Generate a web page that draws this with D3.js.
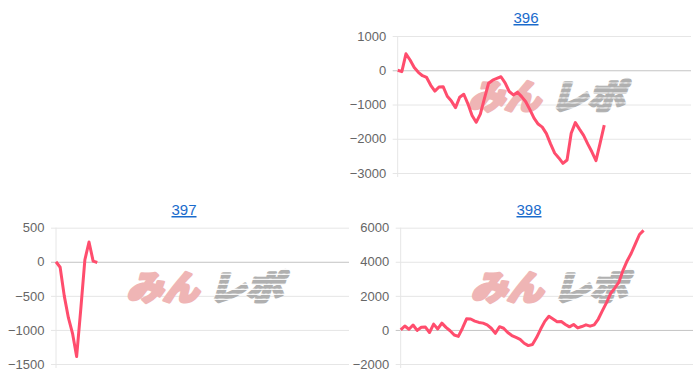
<!DOCTYPE html>
<html>
<head>
<meta charset="utf-8">
<script src="https://cdn.jsdelivr.net/npm/d3@7"></script>
<style>
  body { margin: 0; background: #fff; }
  svg { display: block; font-family: "Liberation Sans", Arial, sans-serif; }
</style>
</head>
<body>
<div id="chart"></div>
<script>
// values, one per game step
const titles = ['396', '397', '398'];

const series396 = [0, -40, 480, 300, 80, -60, -160, -210, -440, -610,
  -490, -480, -760, -900, -1090, -790, -700, -980, -1320, -1520,
  -1280, -820, -380, -290, -240, -190, -370, -620, -720, -640,
  -770, -920, -1150, -1400, -1570, -1660, -1850, -2150, -2420, -2560,
  -2720, -2620, -1840, -1530, -1720, -1900, -2150, -2380, -2640, -2130,
  -1600];

const series397 = [0, -80, -500, -820, -1050, -1390, -700, 30, 290, 10, -10];

const series398 = [0, 230, 40, 290, -30, 160, 170, -150, 340, 60,
  400, 150, -50, -300, -380, 100, 650, 640, 520, 440,
  400, 300, 100, -200, 190, 100, -150, -330, -440, -550,
  -780, -920, -860, -450, 50, 500, 800, 640, 480, 490,
  320, 180, 320, 120, 200, 300, 220, 300, 640, 1130,
  1600, 2150, 2450, 2800, 3500, 4050, 4500, 5050, 5600, 5840];

const ticks396 = [1000, 0, -1000, -2000, -3000];
const ticks397 = [500, 0, -500, -1000, -1500];
const ticks398 = [6000, 4000, 2000, 0, -2000];

const xSlots = 71; // width of the x axis in game steps

const svg = d3.select('#chart').append('svg')
  .attr('width', 700)
  .attr('height', 382);

// striped fill for the grey half of the logo
const defs = svg.append('defs');
defs.append('pattern')
  .attr('id', 'stripes')
  .attr('patternUnits', 'userSpaceOnUse')
  .attr('width', 8).attr('height', 5)
  .append('rect')
  .attr('width', 8).attr('height', 3.8)
  .attr('fill', '#b0b0b0');

const panels = [
  { title: titles[0], data: series396, ticks: ticks396, titleX: 526, titleY: 23,
    left: 397.7, right: 691, top: 36, bottom: 173 },
  { title: titles[1], data: series397, ticks: ticks397, titleX: 184, titleY: 215,
    left: 56, right: 349, top: 227.7, bottom: 364 },
  { title: titles[2], data: series398, ticks: ticks398, titleX: 529, titleY: 215,
    left: 400.7, right: 693, top: 227.7, bottom: 364 }
];

panels.forEach(drawPanel);

function drawPanel(p) {
  const g = svg.append('g');

  const x = d3.scaleLinear()
    .domain([0, xSlots])
    .range([p.left, p.right]);

  const y = d3.scaleLinear()
    .domain(d3.extent(p.ticks))
    .range([p.bottom, p.top]);

  // title (looks like a link)
  g.append('text')
    .attr('x', p.titleX)
    .attr('y', p.titleY)
    .attr('text-anchor', 'middle')
    .attr('fill', '#1a6bcc')
    .style('font-size', '15px')
    .style('text-decoration', 'underline')
    .text(p.title);

  // y axis: grid lines, tick marks and labels
  const yAxis = d3.axisLeft(y)
    .tickValues(p.ticks)
    .tickSize(-(p.right - p.left) - 5)
    .tickPadding(6)
    .tickFormat(d3.format('d'));

  const ax = g.append('g')
    .attr('transform', 'translate(' + (p.left - 5) + ',0)')
    .call(yAxis);
  ax.select('.domain').remove();
  ax.selectAll('.tick line')
    .attr('stroke', d => d === 0 ? '#c4c4c4' : '#e6e6e6')
    .attr('stroke-width', 1);
  ax.selectAll('.tick text')
    .attr('fill', '#666')
    .style('font-size', '13px')
    .attr('x', -6.5);

  // left axis line
  g.append('line')
    .attr('x1', p.left).attr('x2', p.left)
    .attr('y1', p.top).attr('y2', p.bottom + 4)
    .attr('stroke', '#e6e6e6');

  // watermark
  const cx = (p.left + p.right) / 2;
  const cy = (p.top + p.bottom) / 2 - 9;
  const wm = g.append('g')
    .attr('transform', 'translate(' + cx + ',' + (cy + 13) + ') skewX(-16)')
    .style('font-family', '"Noto Sans CJK JP", sans-serif')
    .style('font-weight', 900)
    .style('font-size', '34px')
    .attr('stroke-linejoin', 'round');
  wm.append('text')
    .attr('x', -76)
    .attr('textLength', 72)
    .attr('lengthAdjust', 'spacingAndGlyphs')
    .attr('fill', '#efb5b5')
    .attr('stroke', '#efb5b5')
    .attr('stroke-width', 3)
    .text('みん');
  wm.append('text')
    .attr('x', 6)
    .attr('textLength', 74)
    .attr('lengthAdjust', 'spacingAndGlyphs')
    .attr('fill', 'url(#stripes)')
    .attr('stroke', 'url(#stripes)')
    .attr('stroke-width', 3)
    .text('レポ');

  // data line
  const line = d3.line()
    .x((d, i) => x(i))
    .y(d => y(d));

  g.append('path')
    .datum(p.data)
    .attr('fill', 'none')
    .attr('stroke', '#ff4d6d')
    .attr('stroke-width', 3)
    .attr('stroke-linejoin', 'round')
    .attr('d', line);
}
</script>
</body>
</html>
